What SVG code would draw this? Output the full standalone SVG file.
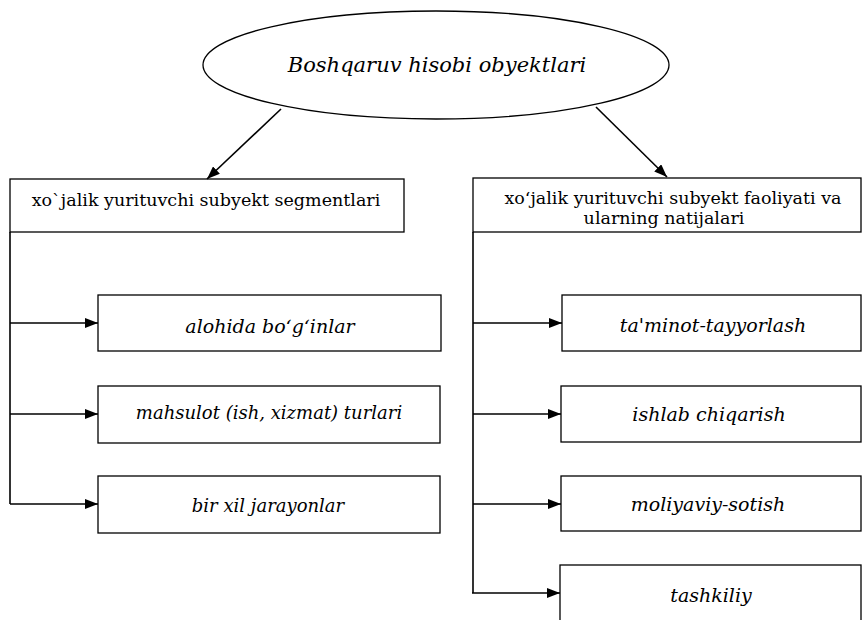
<svg xmlns="http://www.w3.org/2000/svg" width="862" height="620" viewBox="0 0 862 620">
<defs>
<style>
.box{fill:#fff;stroke:#000;stroke-width:1.3}
.ln{fill:none;stroke:#000;stroke-width:1.6}
.t{font-family:"DejaVu Serif",serif;fill:#000;text-anchor:middle}
.it{font-style:italic;font-size:19px}
.it2{font-style:italic;font-size:18px}
.rg{font-size:17.5px}
</style>
<marker id="ah" viewBox="0 0 13 10" refX="13" refY="5" markerWidth="13" markerHeight="10" markerUnits="userSpaceOnUse" orient="auto"><path d="M0,0 L13,5 L0,10 z" fill="#000"/></marker>
</defs>
<rect width="862" height="620" fill="#fff"/>
<g id="root">
<ellipse class="box" cx="436" cy="65" rx="233" ry="54"/>
<text class="t" x="437" y="72" style="font-style:italic;font-size:21px">Boshqaruv hisobi obyektlari</text>
</g>
<g id="segments">
<rect class="box" x="10" y="179" width="394" height="53"/>
<text class="t rg" x="206" y="206">xo`jalik yurituvchi subyekt segmentlari</text>
</g>
<g id="activity">
<rect class="box" x="473" y="178" width="388" height="54"/>
<text class="t rg" x="673" y="204">xo‘jalik yurituvchi subyekt faoliyati va</text>
<text class="t rg" x="664" y="224">ularning natijalari</text>
</g>
<g id="alohida">
<rect class="box" x="98" y="295" width="343" height="56"/>
<text class="t it" x="270" y="333">alohida bo‘g‘inlar</text>
</g>
<g id="mahsulot">
<rect class="box" x="98" y="386" width="342" height="57"/>
<text class="t it2" x="269" y="419">mahsulot (ish, xizmat) turlari</text>
</g>
<g id="birxil">
<rect class="box" x="98" y="476" width="342" height="57"/>
<text class="t it2" x="268" y="512">bir xil jarayonlar</text>
</g>
<g id="taminot">
<rect class="box" x="562" y="295" width="299" height="56"/>
<text class="t it" x="713" y="332">ta'minot-tayyorlash</text>
</g>
<g id="ishlab">
<rect class="box" x="561" y="386" width="300" height="56"/>
<text class="t it" x="709" y="421">ishlab chiqarish</text>
</g>
<g id="moliyaviy">
<rect class="box" x="561" y="476" width="300" height="55"/>
<text class="t it" x="708" y="511">moliyaviy-sotish</text>
</g>
<g id="tashkiliy">
<rect class="box" x="560" y="565" width="301" height="60"/>
<text class="t it" x="711" y="602">tashkiliy</text>
</g>
<g id="connectors">
<line class="ln" x1="281" y1="109" x2="207" y2="179" marker-end="url(#ah)"/>
<line class="ln" x1="596" y1="107" x2="667" y2="177" marker-end="url(#ah)"/>
<path class="ln" d="M10,232 V504"/>
<line class="ln" x1="10" y1="323" x2="98" y2="323" marker-end="url(#ah)"/>
<line class="ln" x1="10" y1="414" x2="98" y2="414" marker-end="url(#ah)"/>
<line class="ln" x1="10" y1="504" x2="98" y2="504" marker-end="url(#ah)"/>
<path class="ln" d="M473,232 V593"/>
<line class="ln" x1="473" y1="323" x2="562" y2="323" marker-end="url(#ah)"/>
<line class="ln" x1="473" y1="414" x2="561" y2="414" marker-end="url(#ah)"/>
<line class="ln" x1="473" y1="504" x2="561" y2="504" marker-end="url(#ah)"/>
<line class="ln" x1="472" y1="593" x2="560" y2="593" marker-end="url(#ah)"/>
</g>
</svg>
